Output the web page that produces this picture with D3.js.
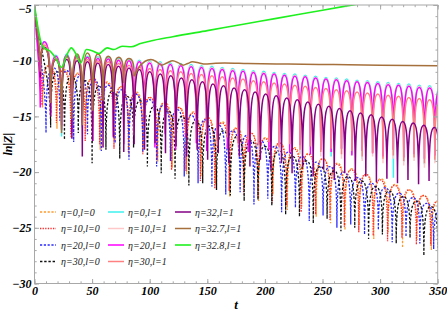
<!DOCTYPE html>
<html><head><meta charset="utf-8">
<script src="https://cdn.jsdelivr.net/npm/d3@7"></script>
<style>body{margin:0;background:#fff}svg{display:block}</style>
</head><body><svg id="c" width="447" height="311"></svg>
<script>
// ---------- tick labels ----------
const xTicks = [0, 50, 100, 150, 200, 250, 300, 350];
const yTicks = [-5, -10, -15, -20, -25, -30];
const xMinor = d3.range(0, 351, 10);
const yMinor = d3.range(-30, -4, 1);

// ---------- start point (all curves) ----------
const startT = 0, startV = -5;

// ---------- l=1 solid series: shared lobe times ----------
const sDipT = [5,14,23.5,32.5,41.5,50.5,59.5,68.5,77.5,86.5,95.5,104.5,113.5,122.5,131.5,140.5,149.5,158.5,167.5,176.5,185.5,194.5,203.5,212.5,221.5,230.5,239.5,248.5,257.5,266.5,275.5,284.5,293.5,302.5,311.5,320.5,329.5,338.5,347.5];
const sPeakT = [8.5,18.5,28,37,46,55,64,73,82,91,100,109,118,127,136,145,154,163,172,181,190,199,208,217,226,235,244,253,262,271,280,289,298,307,316,325,334,343,352];

const cyanPeak = [-8.3,-9.5,-9.4,-9.5,-9.6,-9.65,-9.7,-9.8,-9.85,-9.95,-10.0,-10.1,-10.2,-10.25,-10.35,-10.45,-10.5,-10.6,-10.7,-10.8,-10.9,-10.95,-11.05,-11.15,-11.2,-11.3,-11.4,-11.5,-11.55,-11.65,-11.75,-11.8,-11.9,-11.95,-12.05,-12.1,-12.2,-12.25,-12.35];
const cyanDip = [-10.5,-14.5,-16.8,-15.2,-16.0,-15.5,-16.3,-15.8,-16.6,-15.9,-16.4,-17.0,-16.2,-16.8,-17.3,-16.5,-17.1,-16.9,-17.6,-16.8,-17.4,-17.9,-17.2,-18.0,-17.5,-18.3,-17.7,-18.1,-18.6,-17.9,-18.4,-18.8,-18.2,-18.5,-20.5,-19.1,-18.6,-19.3,-19.0];

const pinkPeak = [-8.4,-9.6,-9.5,-9.6,-9.7,-9.75,-9.8,-9.9,-9.95,-10.05,-10.1,-10.2,-10.3,-10.35,-10.45,-10.55,-10.6,-10.7,-10.8,-10.9,-11.0,-11.05,-11.15,-11.25,-11.3,-11.4,-11.5,-11.6,-11.65,-11.75,-11.85,-11.9,-12.0,-12.05,-12.15,-12.2,-12.3,-12.35,-12.45];
const pinkDip = [-10.8,-14.2,-16.0,-15.6,-15.8,-16.1,-15.7,-16.4,-16.0,-16.7,-16.2,-16.9,-16.5,-17.1,-16.7,-17.4,-16.9,-17.6,-17.2,-17.8,-17.3,-18.0,-17.6,-18.2,-17.8,-18.4,-18.0,-18.6,-18.2,-18.8,-18.4,-19.0,-18.6,-19.2,-18.8,-19.4,-19.0,-19.6,-19.2];

const magPeak = [-8.3,-9.6,-9.5,-9.6,-9.7,-9.8,-9.85,-9.95,-10.0,-10.1,-10.2,-10.3,-10.35,-10.45,-10.55,-10.6,-10.7,-10.8,-10.9,-10.95,-11.05,-11.15,-11.2,-11.3,-11.4,-11.45,-11.55,-11.65,-11.7,-11.8,-11.9,-11.95,-12.05,-12.15,-12.2,-12.3,-12.4,-12.45,-12.55];
const magDip = [-14.2,-14.8,-15.8,-16.4,-15.6,-17.2,-15.9,-16.8,-17.5,-16.3,-15.7,-17.8,-16.6,-18.0,-16.9,-17.4,-18.1,-16.8,-17.9,-17.2,-18.2,-17.5,-18.0,-17.7,-18.3,-17.6,-18.4,-18.0,-18.2,-17.9,-18.5,-18.1,-18.3,-18.6,-18.0,-18.7,-18.4,-18.8,-18.5];

const salPeak = [-8.6,-9.8,-9.7,-9.8,-9.9,-10.0,-10.1,-10.25,-10.4,-10.55,-10.7,-10.8,-10.9,-11.0,-11.15,-11.25,-11.35,-11.45,-11.55,-11.65,-11.8,-11.9,-12.0,-12.1,-12.2,-12.3,-12.4,-12.5,-12.6,-12.7,-12.8,-12.9,-13.0,-13.1,-13.2,-13.3,-13.4,-13.5,-13.6];
const salDip = [-11.0,-14.0,-15.2,-15.8,-15.4,-16.0,-15.6,-16.2,-15.9,-16.4,-16.0,-16.6,-16.2,-16.8,-16.5,-17.0,-16.7,-17.2,-16.9,-17.4,-17.1,-17.6,-17.3,-17.8,-17.5,-18.0,-17.7,-18.2,-17.9,-18.4,-18.1,-18.6,-18.3,-18.8,-18.5,-19.0,-18.7,-19.2,-18.9];

// purple (eta=32) drifts slightly in phase
const purDipT = [5,14,23.5,32.5,41.5,50.5,59.5,68.5,77.5,86.5,95.5,104.6,113.7,122.9,132.0,141.2,150.3,159.5,168.6,177.8,187.0,196.1,205.3,214.4,223.6,232.7,241.9,251.0,260.2,269.3,278.5,287.6,296.8,305.9,315.1,324.2,333.4,342.5,351.7];
const purPeakT = [8.5,18.5,28,37,46,55,64,73,82,91,100,109.2,118.3,127.5,136.6,145.8,154.9,164.1,173.2,182.4,191.5,200.7,209.8,219.0,228.1,237.3,246.4,255.6,264.7,273.9,283.0,292.2,301.3,310.5,319.6,328.8,337.9,347.1,356.2];
const purPeak = [-8.8,-9.9,-9.9,-10.0,-10.1,-10.2,-10.35,-10.5,-10.65,-10.8,-11.0,-11.2,-11.35,-11.55,-11.7,-11.9,-12.1,-12.25,-12.45,-12.6,-12.8,-13.0,-13.15,-13.35,-13.5,-13.7,-13.9,-14.1,-14.3,-14.5,-14.7,-14.85,-15.05,-15.25,-15.45,-15.6,-15.8,-16.0,-16.2];
const purDip = [-11.5,-15.0,-16.2,-17.0,-18.6,-17.2,-17.8,-16.9,-18.2,-17.5,-18.0,-17.4,-18.3,-17.7,-18.6,-18.0,-18.9,-18.3,-19.2,-18.6,-19.5,-18.9,-19.8,-19.2,-20.1,-19.5,-20.4,-19.8,-20.7,-20.1,-20.8,-20.4,-20.9,-20.6,-21.0,-20.7,-21.1,-20.8,-21.2];

// brown (eta=32.7): lobes early, then smooth
const brownDip = [-11.0,-13.8,-16.5,-15.2,-15.8,-14.5,-13.6,-12.8,-12.0,-11.4];
const brownPeak = [-8.9,-9.9,-9.6,-9.4,-9.3,-9.4,-9.6,-9.7,-9.8];
const brownT = [86.5,90,96,101,106,110,115,120,125,129,133,137,143,148,155,165,185,220,260,300,350];
const brownV = [-11.4,-10.7,-10.05,-9.9,-10.1,-10.4,-10.2,-10.0,-10.2,-10.4,-10.25,-10.1,-10.2,-10.3,-10.25,-10.2,-10.25,-10.3,-10.35,-10.4,-10.45];

// green (eta=32.8): smooth, growing
const greenT = [0,2,4,6,9,13,18,23.5,28,32,36,40,45,50,56,63,69,76,84,92,100,120,150,180,210,240,270,300];
const greenV = [-5,-6.4,-7.6,-8.5,-8.9,-9.1,-9.7,-10.6,-9.5,-8.85,-9.4,-10.2,-9.0,-9.1,-9.35,-8.85,-9.0,-8.7,-8.75,-8.45,-8.25,-7.85,-7.3,-6.75,-6.2,-5.65,-5.1,-4.6];

// ---------- l=0 dashed series ----------
const oDipT = [7,19.5,32,44.5,57,69.5,82,94.5,107,119.5,132,144.5,157,169.5,182,194.5,207,219.5,232,244.5,257,269.5,282,294.5,307,319.5,332,344.5];
const oPeakT = [13,25.5,38,50.5,63,75.5,88,100.5,113,125.5,138,150.5,163,175.5,188,200.5,213,225.5,238,250.5,263,275.5,288,300.5,313,325.5,338,350.5];
const oDip = [-14.2,-16.1,-17.0,-16.4,-18.0,-17.2,-18.6,-17.9,-19.1,-19.6,-20.2,-20.4,-21.1,-22.2,-21.4,-22.6,-22.0,-23.4,-23.1,-24.0,-24.6,-25.2,-24.8,-26.0,-25.4,-26.8,-26.1,-27.0];
const oPeak = [-10.4,-10.8,-11.1,-11.5,-11.9,-12.3,-12.8,-13.3,-13.7,-14.2,-14.6,-15.1,-15.5,-16.0,-16.5,-16.9,-17.4,-17.8,-18.3,-18.8,-19.2,-19.7,-20.2,-20.6,-21.1,-21.6,-22.1,-22.6];

const rDipT = [6.5,19,31.5,44,56.5,69,81.5,94,106.5,119,131.5,144,156.5,169,181.5,194,206.5,219,231.5,244,256.5,269,281.5,294,306.5,319,331.5,344];
const rPeakT = [12.5,25,37.5,50,62.5,75,87.5,100,112.5,125,137.5,150,162.5,175,187.5,200,212.5,225,237.5,250,262.5,275,287.5,300,312.5,325,337.5,350];
const rDip = [-14.0,-15.6,-16.8,-17.2,-17.5,-17.9,-18.2,-18.4,-18.9,-19.8,-19.9,-20.8,-21.5,-21.7,-22.0,-22.3,-22.8,-23.0,-23.6,-23.8,-24.3,-24.9,-25.4,-25.7,-26.2,-25.9,-26.5,-26.6];
const rPeak = [-10.5,-10.9,-11.2,-11.6,-12.0,-12.4,-12.9,-13.3,-13.8,-14.2,-14.7,-15.1,-15.6,-16.1,-16.5,-17.0,-17.4,-17.9,-18.4,-18.8,-19.3,-19.8,-20.2,-20.7,-21.2,-21.6,-22.1,-22.6];

const bDipT = [10,22,34,46,58,70,82,94,106,118,130,142,154,166,178.5,190.5,202.5,214.5,226.5,238.5,250.5,262.5,274.5,286.5,298.5,310.5,322.5,334.5,346.5];
const bPeakT = [16,28,40,52,64,76,88,100,112,124,136,148,160,172,184.5,196.5,208.5,220.5,232.5,244.5,256.5,268.5,280.5,292.5,304.5,316.5,328.5,340.5,352.5];
const bDip = [-16.5,-15.4,-17.3,-16.6,-18.1,-17.4,-18.9,-18.2,-19.5,-19.0,-20.4,-21.0,-21.3,-22.0,-21.8,-22.9,-22.4,-23.6,-23.2,-24.4,-23.9,-25.0,-24.7,-25.6,-25.2,-26.3,-25.8,-26.4,-26.9];
const bPeak = [-10.6,-10.9,-11.3,-11.7,-12.2,-12.6,-13.0,-13.5,-14.0,-14.4,-14.9,-15.3,-15.8,-16.3,-16.7,-17.2,-17.7,-18.2,-18.6,-19.1,-19.5,-20.0,-20.5,-21.0,-21.4,-21.9,-22.3,-22.8,-23.3];

const kDipT = [14,26,38,50,62,74,86,98,110,122,134,146,158,170,182,194,206,218,230,242,254,266,278,290,302,314,326,338,350];
const kPeakT = [20,32,44,56,68,80,92,104,116,128,140,152,164,176,188,200,212,224,236,248,260,272,284,296,308,320,332,344,356];
const kDip = [-16.0,-17.1,-16.5,-19.2,-18.0,-18.8,-17.8,-19.5,-20.1,-20.6,-21.2,-21.0,-21.6,-22.1,-22.6,-22.5,-23.0,-23.8,-24.0,-24.6,-24.2,-25.3,-25.0,-26.0,-25.6,-26.4,-25.9,-27.5,-26.8];
const kPeak = [-11.0,-11.4,-11.8,-12.3,-12.7,-13.2,-13.6,-14.1,-14.5,-15.0,-15.4,-15.9,-16.3,-16.8,-17.2,-17.7,-18.1,-18.6,-19.0,-19.5,-19.9,-20.4,-20.8,-21.3,-21.7,-22.2,-22.6,-23.1,-23.5];

// ---------- legend labels ----------
const legendLabels = ["η=0,l=0","η=10,l=0","η=20,l=0","η=30,l=0","η=0,l=1","η=10,l=1","η=20,l=1","η=30,l=1","η=32,l=1","η=32.7,l=1","η=32.8,l=1"];

// ================= drawing =================
const svg = d3.select("#c");
const L = 34.5, R = 437.7, T = 5, B = 283.5;
const x = d3.scaleLinear().domain([0, 350]).range([L, R]);
const y = d3.scaleLinear().domain([-30, -5]).range([B, T]);

svg.append("defs").append("clipPath").attr("id", "clip")
  .append("rect").attr("x", L).attr("y", T).attr("width", R - L).attr("height", B - T);

// custom lobe curve: alternating peak/dip points; cusps at dips
function ArchCurve(ctx) { this._ctx = ctx; }
ArchCurve.prototype = {
  areaStart() {}, areaEnd() {},
  lineStart() { this._pts = []; },
  point(px, py) { this._pts.push([+px, +py]); },
  lineEnd() {
    const p = this._pts, c = this._ctx;
    if (!p.length) return;
    c.moveTo(p[0][0], p[0][1]);
    for (let i = 1; i < p.length; i++) {
      const [ax, ay] = p[i - 1], [bx, by] = p[i];
      const dx = bx - ax, dy = by - ay;
      if (i === 1) c.bezierCurveTo(ax + 0.25 * dx, ay + 0.35 * dy, bx, ay + 0.55 * dy, bx, by);
      else if (dy > 0) c.bezierCurveTo(ax + 0.5 * dx, ay, bx, ay + 0.1 * dy, bx, by);
      else c.bezierCurveTo(ax, by - 0.1 * dy, bx - 0.5 * dx, by, bx, by);
    }
  }
};
const curveArch = ctx => new ArchCurve(ctx);

function lobes(dT, dV, pT, pV) {
  const pts = [[startT, startV]];
  for (let i = 0; i < dT.length; i++) {
    pts.push([dT[i], dV[i]]);
    if (i < pT.length) pts.push([pT[i], pV[i]]);
  }
  return pts;
}

const archLine = d3.line().x(d => x(d[0])).y(d => y(d[1])).curve(curveArch);
const smoothLine = d3.line().x(d => x(d[0])).y(d => y(d[1])).curve(d3.curveMonotoneX);

const series = [
  {pts: lobes(oDipT, oDip, oPeakT, oPeak), color: "#ff9a2e", dash: "2.2,1.6", w: 1.3},
  {pts: lobes(rDipT, rDip, rPeakT, rPeak), color: "#ff2a2a", dash: "1.3,1.3", w: 1.3},
  {pts: lobes(bDipT, bDip, bPeakT, bPeak), color: "#2a2aff", dash: "2.2,1.6", w: 1.3},
  {pts: lobes(kDipT, kDip, kPeakT, kPeak), color: "#111111", dash: "2.4,1.8", w: 1.3},
  {pts: lobes(sDipT, cyanDip, sPeakT, cyanPeak), color: "#3ff0f0", w: 1.5},
  {pts: lobes(sDipT, pinkDip, sPeakT, pinkPeak), color: "#ffc8c8", w: 1.5},
  {pts: lobes(sDipT, magDip, sPeakT, magPeak), color: "#ff00ff", w: 1.5},
  {pts: lobes(sDipT, salDip, sPeakT, salPeak), color: "#ff8080", w: 1.5},
  {pts: lobes(purDipT, purDip, purPeakT, purPeak), color: "#840084", w: 1.5},
  {pts: lobes(sDipT.slice(0, brownDip.length), brownDip, sPeakT.slice(0, brownPeak.length), brownPeak), color: "#a5703c", w: 1.5},
];

const g = svg.append("g").attr("clip-path", "url(#clip)");
series.forEach(s => {
  g.append("path").attr("d", archLine(s.pts)).attr("fill", "none")
    .attr("stroke", s.color).attr("stroke-width", s.w)
    .attr("stroke-dasharray", s.dash || null);
});
g.append("path").attr("d", smoothLine(brownT.map((t, i) => [t, brownV[i]])))
  .attr("fill", "none").attr("stroke", "#a5703c").attr("stroke-width", 1.5);
g.append("path").attr("d", smoothLine(greenT.map((t, i) => [t, greenV[i]])))
  .attr("fill", "none").attr("stroke", "#1ef01e").attr("stroke-width", 1.6);

// ---------- frame & ticks ----------
const frameCol = "#a8a8a8";
svg.append("rect").attr("x", L).attr("y", T).attr("width", R - L).attr("height", B - T)
  .attr("fill", "none").attr("stroke", frameCol).attr("stroke-width", 1);

function styleAxis(sel, labels) {
  sel.select(".domain").remove();
  sel.selectAll(".tick line").attr("stroke", frameCol);
  sel.selectAll(".tick text")
    .attr("font-family", "'Liberation Serif', 'Times New Roman', serif")
    .attr("font-size", 12).attr("font-weight", "bold").attr("font-style", "italic")
    .attr("fill", "#000");
  if (!labels) sel.selectAll(".tick text").remove();
}
const fmt = d3.format("d");
svg.append("g").attr("transform", `translate(0,${B})`)
  .call(d3.axisBottom(x).tickValues(xMinor).tickSize(-2.2).tickFormat(""))
  .call(s => styleAxis(s, false));
svg.append("g").attr("transform", `translate(0,${B})`)
  .call(d3.axisBottom(x).tickValues(xTicks).tickSize(-4.5).tickPadding(3).tickFormat(fmt))
  .call(s => styleAxis(s, true));
svg.append("g").attr("transform", `translate(0,${T})`)
  .call(d3.axisTop(x).tickValues(xMinor).tickSize(-2.2).tickFormat(""))
  .call(s => styleAxis(s, false));
svg.append("g").attr("transform", `translate(0,${T})`)
  .call(d3.axisTop(x).tickValues(xTicks).tickSize(-4.5).tickFormat(""))
  .call(s => styleAxis(s, false));
svg.append("g").attr("transform", `translate(${L},0)`)
  .call(d3.axisLeft(y).tickValues(yMinor).tickSize(-2.2).tickFormat(""))
  .call(s => styleAxis(s, false));
svg.append("g").attr("transform", `translate(${L},0)`)
  .call(d3.axisLeft(y).tickValues(yTicks).tickSize(-4.5).tickPadding(3).tickFormat(fmt))
  .call(s => styleAxis(s, true))
  .call(s => s.selectAll(".tick text").filter(d => d === -5).attr("dy", "0.6em"));
svg.append("g").attr("transform", `translate(${R},0)`)
  .call(d3.axisRight(y).tickValues(yMinor).tickSize(-2.2).tickFormat(""))
  .call(s => styleAxis(s, false));
svg.append("g").attr("transform", `translate(${R},0)`)
  .call(d3.axisRight(y).tickValues(yTicks).tickSize(-4.5).tickFormat(""))
  .call(s => styleAxis(s, false));

// axis titles
const serif = "'Liberation Serif', 'Times New Roman', serif";
svg.append("text").attr("x", (L + R) / 2).attr("y", 309).attr("text-anchor", "middle")
  .attr("font-family", serif).attr("font-size", 13).attr("font-weight", "bold").attr("font-style", "italic")
  .text("t");
svg.append("text").attr("transform", `translate(12,${(T + B) / 2}) rotate(-90)`)
  .attr("text-anchor", "middle")
  .attr("font-family", serif).attr("font-size", 12).attr("font-weight", "bold").attr("font-style", "italic")
  .text("ln|Z|");

// ---------- legend ----------
const legCols = [{lx: 40, tx: 61}, {lx: 108, tx: 128}, {lx: 175, tx: 195}];
const legRowY = [212, 228.5, 245, 261.5];
const legendStyles = series.slice(0, 10).map(s => ({color: s.color, dash: s.dash, w: s.w}))
  .concat([{color: "#1ef01e", w: 1.6}]);
legendLabels.forEach((lab, i) => {
  const col = i < 4 ? 0 : (i < 8 ? 1 : 2);
  const row = i < 4 ? i : (i < 8 ? i - 4 : i - 8);
  const c = legCols[col], yy = legRowY[row], st = legendStyles[i];
  svg.append("line").attr("x1", c.lx).attr("x2", c.lx + 16).attr("y1", yy).attr("y2", yy)
    .attr("stroke", st.color).attr("stroke-width", st.w).attr("stroke-dasharray", st.dash || null);
  svg.append("text").attr("x", c.tx).attr("y", yy + 3.5)
    .attr("font-family", serif).attr("font-size", 10).attr("font-style", "italic")
    .attr("fill", "#222").text(lab);
});
</script></body></html>
